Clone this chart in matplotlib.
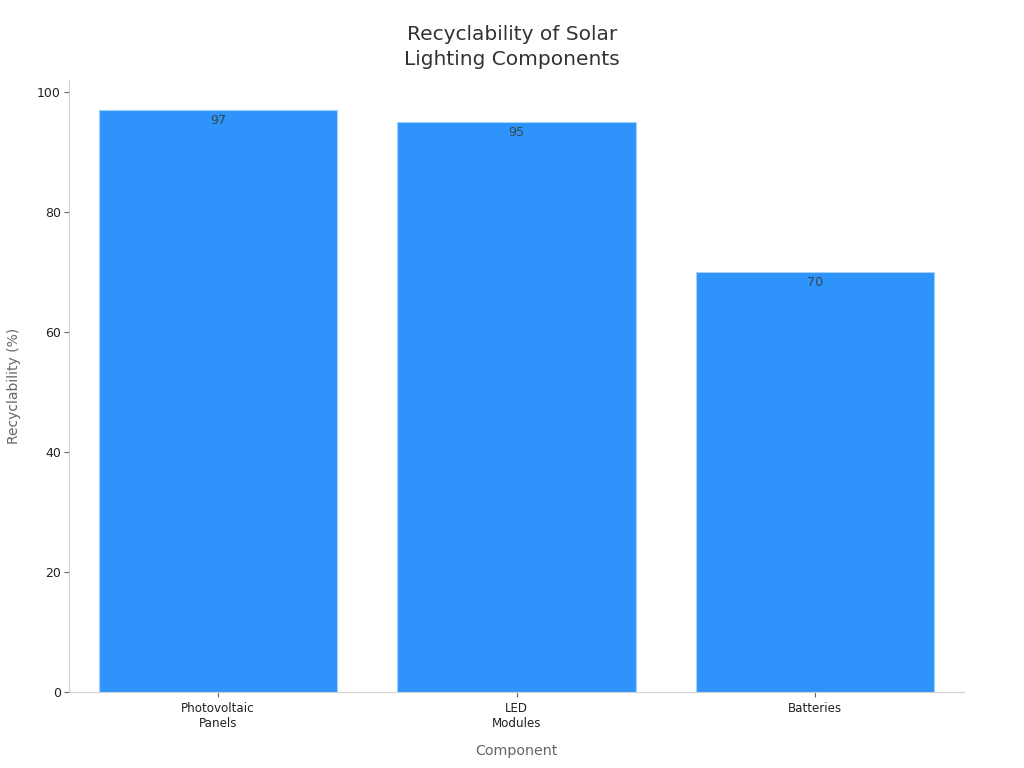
import matplotlib
matplotlib.use("Agg")
import matplotlib.pyplot as plt

components = ["Photovoltaic\nPanels", "LED\nModules", "Batteries"]
recyclability = [97, 95, 70]
y_ticks = [0, 20, 40, 60, 80, 100]

plt.rcParams["font.family"] = "DejaVu Sans"

fig = plt.figure(figsize=(10.24, 7.68), dpi=100)
ax = fig.add_axes([68.7 / 1024, 1 - 691.7 / 768, (964.3 - 68.7) / 1024, (691.7 - 80) / 768])

bars = ax.bar(components, recyclability, width=0.8, color="#2e93fa", edgecolor="#a3d0fc", linewidth=0.8)
ax.set_xlim(-0.5, 2.5)
ax.set_ylim(0, 102)
ax.set_yticks(y_ticks)

# value labels sit just inside the top of each bar
for bar, value in zip(bars, recyclability):
    ax.annotate(
        str(value),
        (bar.get_x() + bar.get_width() / 2, value),
        xytext=(0, -7.7),
        textcoords="offset points",
        ha="center",
        va="center",
        fontsize=9.2,
        color="#37474f",
    )

ax.spines["top"].set_visible(False)
ax.spines["right"].set_visible(False)
ax.spines["left"].set_color("#d0d0d0")
ax.spines["bottom"].set_color("#d0d0d0")
ax.tick_params(axis="y", labelsize=9, length=3.6, color="#666666", labelcolor="#222222", pad=2)
ax.tick_params(axis="x", labelsize=8.6, length=3.6, color="#666666", labelcolor="#222222", pad=4)

ax.set_xlabel("Component", fontsize=10.3, color="#666666", labelpad=10.2)
ax.set_ylabel("Recyclability (%)", fontsize=10, color="#666666", labelpad=11.7)
fig.text(512 / 1024, 1 - 46.7 / 768, "Recyclability of Solar\nLighting Components",
         ha="center", va="center", fontsize=14.5, color="#333333", linespacing=1.4)

fig.savefig("out.png", dpi=100)
